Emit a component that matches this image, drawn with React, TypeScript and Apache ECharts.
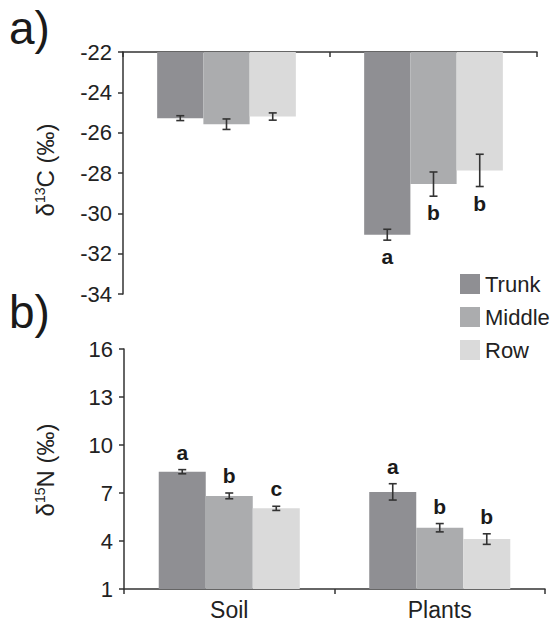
import React, { useEffect, useRef } from 'react';
import * as echarts from 'echarts';

const categories = ['Soil', 'Plants'];
const groups = ['Trunk', 'Middle', 'Row'];
const colors = ['#8f8f93', '#abacae', '#dadada'];

// a) δ13C (‰)
const carbonTrunk = [-25.28, -31.06];
const carbonMiddle = [-25.58, -28.55];
const carbonRow = [-25.2, -27.87];
const carbonTrunkErr = [0.12, 0.27];
const carbonMiddleErr = [0.26, 0.6];
const carbonRowErr = [0.18, 0.8];
const carbonTrunkLetters = ['', 'a'];
const carbonMiddleLetters = ['', 'b'];
const carbonRowLetters = ['', 'b'];
const carbonMin = -34;
const carbonMax = -22;
const carbonInterval = 2;

// b) δ15N (‰)
const nitrogenTrunk = [8.33, 7.07];
const nitrogenMiddle = [6.82, 4.83];
const nitrogenRow = [6.04, 4.12];
const nitrogenTrunkErr = [0.13, 0.51];
const nitrogenMiddleErr = [0.18, 0.26];
const nitrogenRowErr = [0.13, 0.33];
const nitrogenTrunkLetters = ['a', 'a'];
const nitrogenMiddleLetters = ['b', 'b'];
const nitrogenRowLetters = ['c', 'b'];
const nitrogenMin = 1;
const nitrogenMax = 16;
const nitrogenInterval = 3;

const FONT = "'Liberation Sans', Arial, sans-serif";
const GAP = 0.33;
const INK = '#333';

function buildErr(values: number[][], errs: number[][], letters: string[][]) {
  const data: number[][] = [];
  const lets: string[] = [];
  values.forEach((vals, g) => {
    vals.forEach((v, c) => {
      data.push([c, v, errs[g][c], g]);
      lets.push(letters[g][c]);
    });
  });
  return { data, lets };
}

function makeRender(lets: string[], below: boolean) {
  return (params: any, api: any) => {
    const cat = api.value(0);
    const v = api.value(1);
    const e = api.value(2);
    const g = api.value(3);
    const base = api.coord([cat, v]);
    const band = api.size([1, 0])[0];
    const bw = (band * (1 - GAP)) / 3;
    const x = base[0] + (g - 1) * bw;
    const ya = api.coord([cat, v + e])[1];
    const yb = api.coord([cat, v - e])[1];
    const cap = 4;
    const ls = { stroke: INK, lineWidth: 1.6 };
    const children: any[] = [
      { type: 'line', shape: { x1: x, y1: ya, x2: x, y2: yb }, style: ls },
      { type: 'line', shape: { x1: x - cap, y1: ya, x2: x + cap, y2: ya }, style: ls },
      { type: 'line', shape: { x1: x - cap, y1: yb, x2: x + cap, y2: yb }, style: ls },
    ];
    const t = lets[params.dataIndex];
    if (t) {
      const lowY = Math.max(ya, yb);
      const highY = Math.min(ya, yb);
      children.push({
        type: 'text',
        x,
        y: below ? lowY + 27 : highY - 7,
        style: {
          text: t,
          fill: '#1a1a1a',
          fontSize: 21,
          fontWeight: 'bold',
          fontFamily: FONT,
          align: 'center',
          verticalAlign: 'bottom',
        },
      });
    }
    return { type: 'group', children };
  };
}

export default function App() {
  const ref = useRef<HTMLDivElement>(null);
  useEffect(() => {
    document.body.style.margin = '0';
    const chart = echarts.init(ref.current!, undefined, { renderer: 'svg' });
    const cErr = buildErr(
      [carbonTrunk, carbonMiddle, carbonRow],
      [carbonTrunkErr, carbonMiddleErr, carbonRowErr],
      [carbonTrunkLetters, carbonMiddleLetters, carbonRowLetters]
    );
    const nErr = buildErr(
      [nitrogenTrunk, nitrogenMiddle, nitrogenRow],
      [nitrogenTrunkErr, nitrogenMiddleErr, nitrogenRowErr],
      [nitrogenTrunkLetters, nitrogenMiddleLetters, nitrogenRowLetters]
    );
    const axisLine = { show: true, onZero: false, lineStyle: { color: INK, width: 1.5 } };
    const tickLabel = { fontSize: 22, color: '#222', fontFamily: FONT, margin: 11 };
    const carbonVals = [carbonTrunk, carbonMiddle, carbonRow];
    const nitroVals = [nitrogenTrunk, nitrogenMiddle, nitrogenRow];
    const barSeries: any[] = [];
    groups.forEach((name, g) => {
      barSeries.push({
        type: 'bar',
        name,
        xAxisIndex: 0,
        yAxisIndex: 0,
        data: carbonVals[g],
        barGap: '0%',
        barCategoryGap: GAP * 100 + '%',
        clip: true,
        itemStyle: { color: colors[g] },
      });
    });
    groups.forEach((name, g) => {
      barSeries.push({
        type: 'bar',
        name,
        xAxisIndex: 1,
        yAxisIndex: 1,
        data: nitroVals[g],
        barGap: '0%',
        barCategoryGap: GAP * 100 + '%',
        clip: true,
        itemStyle: { color: colors[g] },
      });
    });
    const nameRich = {
      n: { fontSize: 24, fill: '#222', fontFamily: FONT },
      s: { fontSize: 14, fill: '#222', fontFamily: FONT, verticalAlign: 'top', padding: [0, 0, 9, 0] },
    };
    chart.setOption({
      animation: false,
      backgroundColor: '#ffffff',
      textStyle: { fontFamily: FONT },
      grid: [
        { left: 123, top: 52, width: 414, height: 242 },
        { left: 124, top: 349, width: 421, height: 244 },
      ],
      legend: {
        data: groups,
        orient: 'vertical',
        left: 455,
        top: 268,
        itemWidth: 20,
        itemHeight: 20,
        itemGap: 11,
        icon: 'rect',
        textStyle: { fontSize: 22, color: '#222', fontFamily: FONT },
      },
      xAxis: [
        {
          type: 'category',
          gridIndex: 0,
          position: 'top',
          data: categories,
          axisLine,
          axisTick: { show: true, inside: true, length: 5, lineStyle: { color: INK, width: 1.5 } },
          axisLabel: { show: false },
        },
        {
          type: 'category',
          gridIndex: 1,
          position: 'bottom',
          data: categories,
          axisLine,
          axisTick: { show: true, inside: false, length: 5, lineStyle: { color: INK, width: 1.5 } },
          axisLabel: { fontSize: 23, color: '#222', fontFamily: FONT, margin: 9 },
        },
      ],
      yAxis: [
        {
          type: 'value',
          gridIndex: 0,
          min: carbonMin,
          max: carbonMax,
          interval: carbonInterval,
          axisLine,
          axisTick: { show: true, length: 5, lineStyle: { color: INK, width: 1.5 } },
          axisLabel: tickLabel,
          splitLine: { show: false },
        },
        {
          type: 'value',
          gridIndex: 1,
          min: nitrogenMin,
          max: nitrogenMax,
          interval: nitrogenInterval,
          axisLine,
          axisTick: { show: true, length: 5, lineStyle: { color: INK, width: 1.5 } },
          axisLabel: tickLabel,
          splitLine: { show: false },
        },
      ],
      series: [
        ...barSeries,
        {
          type: 'custom',
          xAxisIndex: 0,
          yAxisIndex: 0,
          data: cErr.data,
          renderItem: makeRender(cErr.lets, true),
          z: 10,
        },
        {
          type: 'custom',
          xAxisIndex: 1,
          yAxisIndex: 1,
          data: nErr.data,
          renderItem: makeRender(nErr.lets, false),
          z: 10,
        },
      ],
      graphic: [
        {
          type: 'text',
          left: 9,
          top: 5,
          style: { text: 'a)', fontSize: 46, fill: '#1a1a1a', fontFamily: FONT },
        },
        {
          type: 'text',
          left: 9,
          top: 289,
          style: { text: 'b)', fontSize: 46, fill: '#1a1a1a', fontFamily: FONT },
        },
        {
          type: 'text',
          x: 45,
          y: 170,
          rotation: Math.PI / 2,
          style: {
            text: '{n|δ}{s|13}{n|C (‰)}',
            align: 'center',
            verticalAlign: 'middle',
            rich: nameRich,
          },
        },
        {
          type: 'text',
          x: 45,
          y: 470,
          rotation: Math.PI / 2,
          style: {
            text: '{n|δ}{s|15}{n|N (‰)}',
            align: 'center',
            verticalAlign: 'middle',
            rich: nameRich,
          },
        },
      ],
    });
    return () => chart.dispose();
  }, []);
  return (
    <div
      ref={ref}
      style={{ position: 'fixed', left: 0, top: 0, width: 553, height: 621, background: '#fff' }}
    />
  );
}
